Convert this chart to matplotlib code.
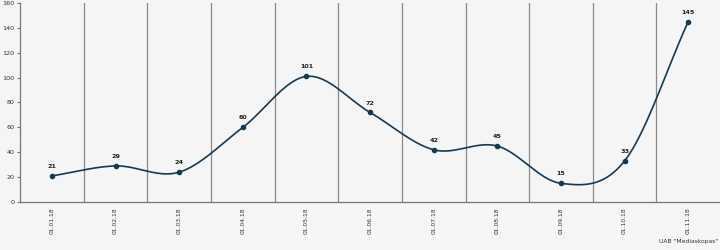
import numpy as np
import matplotlib
matplotlib.use("Agg")
import matplotlib.pyplot as plt

categories = ["01.01.18", "01.02.18", "01.03.18", "01.04.18", "01.05.18", "01.06.18",
              "01.07.18", "01.08.18", "01.09.18", "01.10.18", "01.11.18"]
values = [21, 29, 24, 60, 101, 72, 42, 45, 15, 33, 145]
y_ticks = [0, 20, 40, 60, 80, 100, 120, 140, 160]
source = 'UAB "Mediaskopas"'

line_color = "#163a52"
bg = "#f5f5f5"

def catmull_rom(x, y, n=40):
    x = np.asarray(x, float); y = np.asarray(y, float)
    px = np.concatenate([[2*x[0]-x[1]], x, [2*x[-1]-x[-2]]])
    py = np.concatenate([[2*y[0]-y[1]], y, [2*y[-1]-y[-2]]])
    xs, ys = [], []
    t = np.linspace(0, 1, n)
    for i in range(1, len(px) - 2):
        p0, p1, p2, p3 = py[i-1], py[i], py[i+1], py[i+2]
        q0, q1, q2, q3 = px[i-1], px[i], px[i+1], px[i+2]
        def cr(a, b, c, d):
            return 0.5*((2*b) + (-a + c)*t + (2*a - 5*b + 4*c - d)*t**2 + (-a + 3*b - 3*c + d)*t**3)
        xs.append(cr(q0, q1, q2, q3)); ys.append(cr(p0, p1, p2, p3))
    return np.concatenate(xs), np.concatenate(ys)

fig = plt.figure(figsize=(7.2, 2.5), dpi=100, facecolor=bg)
ax = fig.add_axes([0.028, 0.192, 0.972, 0.796])
ax.set_facecolor(bg)

x = np.arange(len(categories))
sx, sy = catmull_rom(x, values)
ax.plot(sx, sy, color=line_color, lw=1.2, zorder=3)
ax.plot(x, values, 'o', color=line_color, ms=3.0, zorder=4)
for xi, v in zip(x, values):
    ax.annotate(str(v), (xi, v), xytext=(0, 5), textcoords="offset points",
                ha="center", va="bottom", fontsize=4.6, fontweight="bold", color="#222222")

for gx in np.arange(0.5, len(categories) - 1, 1.0):
    ax.axvline(gx, color="#8a8a8a", lw=0.9, zorder=1)

ax.set_xlim(-0.5, len(categories) - 0.5)
ax.set_ylim(0, 160)
ax.set_yticks(y_ticks)
ax.set_yticklabels([str(t) for t in y_ticks], fontsize=4.6, color="#333333")
ax.set_xticks(x)
ax.set_xticklabels(categories, rotation=90, fontsize=4.3, color="#333333")
ax.tick_params(axis="x", length=0, pad=4)
ax.tick_params(axis="y", length=2, width=0.8, color="#777777", pad=2)

for s in ["top", "right"]:
    ax.spines[s].set_visible(False)
ax.spines["left"].set_color("#777777")
ax.spines["bottom"].set_color("#777777")
ax.spines["left"].set_linewidth(0.9)
ax.spines["bottom"].set_linewidth(0.9)

fig.text(0.997, 0.035, source, ha="right", va="center", fontsize=4.3, color="#333333")

fig.savefig("out.png", dpi=100, facecolor=bg)
